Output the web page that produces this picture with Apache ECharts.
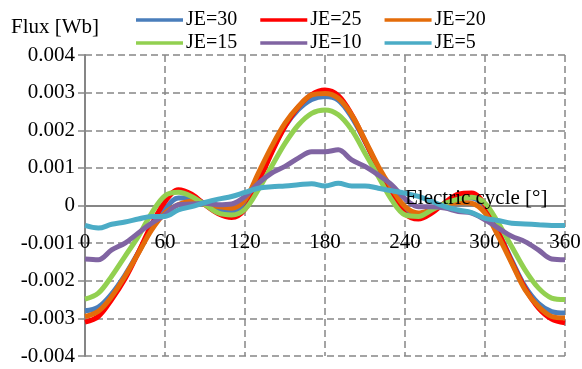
<!DOCTYPE html>
<html><head><meta charset="utf-8">
<script src="https://cdn.jsdelivr.net/npm/echarts@6/dist/echarts.min.js"></script>
<style>html,body{margin:0;padding:0;background:#fff}#c{width:582px;height:369px}</style>
</head><body><div id="c"></div>
<script>
const angles = [0,10,20,30,40,50,60,70,80,90,100,110,120,130,140,150,160,170,180,190,200,210,220,230,240,250,260,270,280,290,300,310,320,330,340,350,360];
const xTicks = [0,60,120,180,240,300,360];
const yTicks = [-0.004,-0.003,-0.002,-0.001,0,0.001,0.002,0.003,0.004];
const je30 = [-0.00280,-0.00270,-0.00235,-0.00185,-0.00125,-0.00060,-0.00010,0.00020,0.00020,0.00005,-0.00010,-0.00015,0.00005,0.00070,0.00145,0.00210,0.00255,0.00282,0.00290,0.00280,0.00235,0.00170,0.00100,0.00040,-0.00010,-0.00025,-0.00015,0.00005,0.00020,0.00020,-0.00005,-0.00070,-0.00145,-0.00215,-0.00260,-0.00282,-0.00286];
const je25 = [-0.00310,-0.00295,-0.00250,-0.00195,-0.00125,-0.00050,0.00010,0.00042,0.00030,0.00002,-0.00022,-0.00032,-0.00010,0.00060,0.00140,0.00210,0.00262,0.00295,0.00307,0.00292,0.00242,0.00172,0.00100,0.00035,-0.00022,-0.00036,-0.00020,0.00008,0.00030,0.00033,0.00002,-0.00070,-0.00150,-0.00220,-0.00272,-0.00302,-0.00312];
const je20 = [-0.00295,-0.00281,-0.00242,-0.00188,-0.00127,-0.00065,-0.00020,0.00002,0.00011,0.00004,-0.00003,-0.00007,0.00015,0.00086,0.00157,0.00219,0.00263,0.00294,0.00298,0.00285,0.00241,0.00174,0.00104,0.00046,-0.00003,-0.00020,-0.00010,0.00002,0.00008,0.00006,-0.00020,-0.00082,-0.00153,-0.00224,-0.00268,-0.00295,-0.00299];
const je15 = [-0.00249,-0.00233,-0.00188,-0.00135,-0.00082,-0.00020,0.00026,0.00035,0.00024,0.00002,-0.00020,-0.00025,-0.00010,0.00042,0.00104,0.00165,0.00214,0.00245,0.00254,0.00241,0.00201,0.00139,0.00077,0.00015,-0.00025,-0.00029,-0.00012,0.00006,0.00017,0.00022,0.00006,-0.00047,-0.00109,-0.00171,-0.00219,-0.00246,-0.00250];
const je10 = [-0.00142,-0.00144,-0.00118,-0.00100,-0.00073,-0.00047,-0.00025,0.00002,0.00004,0.00006,0.00002,0.00004,0.00024,0.00059,0.00086,0.00104,0.00126,0.00143,0.00143,0.00148,0.00121,0.00104,0.00081,0.00055,0.00018,-0.00003,-0.00003,-0.00007,-0.00016,-0.00020,-0.00038,-0.00060,-0.00082,-0.00096,-0.00118,-0.00142,-0.00144];
const je5 = [-0.00053,-0.00060,-0.00050,-0.00044,-0.00036,-0.00029,-0.00029,-0.00012,-0.00003,0.00008,0.00017,0.00024,0.00035,0.00046,0.00050,0.00052,0.00055,0.00058,0.00052,0.00059,0.00052,0.00052,0.00046,0.00039,0.00033,0.00024,0.00011,-0.00003,-0.00012,-0.00019,-0.00034,-0.00040,-0.00047,-0.00049,-0.00051,-0.00053,-0.00053];
const names = ['JE=30','JE=25','JE=20','JE=15','JE=10','JE=5'];
const colors = ['#4A7EBB','#FF0000','#E46C0A','#92D050','#8064A2','#4BACC6'];
const seriesData = [je30, je25, je20, je15, je10, je5];

const FONT = "Liberation Serif";
const chart = echarts.init(document.getElementById('c'), null, {renderer:'canvas'});
const gridLine = {show:true, lineStyle:{color:'#868686', width:1.5, type:[7,4]}};
const legendBase = {
  icon: 'rect', itemWidth: 47, itemHeight: 3.5, itemGap: 23,
  textStyle: {fontFamily: FONT, fontSize: 20, color: '#000', padding:[0,0,0,-2]},
  selectedMode: false
};
chart.setOption({
  animation: false,
  backgroundColor: '#fff',
  textStyle: {fontFamily: FONT},
  title: [
    {text: 'Flux [Wb]', left: 6, top: 12, textStyle: {fontFamily: FONT, fontSize: 21, fontWeight: 'normal', color: '#000'}},
    {text: 'Electric cycle [°]', left: 400, top: 183, z: 10, textStyle: {fontFamily: FONT, fontSize: 21, fontWeight: 'normal', color: '#000'}}
  ],
  legend: [
    Object.assign({}, legendBase, {data: names.slice(0,3), left: 131, top: 5}),
    Object.assign({}, legendBase, {data: names.slice(3,6), left: 131, top: 28})
  ],
  grid: {left: 85, right: 17, top: 55, bottom: 13, containLabel: false, outerBoundsMode: 'none'},
  xAxis: {
    type: 'value', min: xTicks[0], max: xTicks[xTicks.length-1], interval: 60,
    position: 'bottom', offset: -150,
    axisLine: {onZero: false, lineStyle: {color: '#868686', width: 2}},
    axisTick: {show: false},
    axisLabel: {margin: 26, fontFamily: FONT, fontSize: 21, color: '#000'},
    splitLine: gridLine
  },
  yAxis: {
    type: 'value', min: yTicks[0], max: yTicks[yTicks.length-1], interval: 0.001,
    axisLine: {show: true, onZero: false, lineStyle: {color: '#868686', width: 2}},
    axisTick: {show: true, length: 7, lineStyle: {color: '#868686', width: 1.5}},
    axisLabel: {margin: 10, fontFamily: FONT, fontSize: 21, color: '#000',
      formatter: v => Math.abs(v) < 1e-9 ? '0' : v.toFixed(3)},
    splitLine: gridLine
  },
  series: names.map((n, i) => ({
    name: n, type: 'line', smooth: 0.35, symbol: 'none',
    data: angles.map((a, j) => [a, seriesData[i][j]]),
    lineStyle: {color: colors[i], width: 5},
    itemStyle: {color: colors[i]}
  }))
});
</script></body></html>
